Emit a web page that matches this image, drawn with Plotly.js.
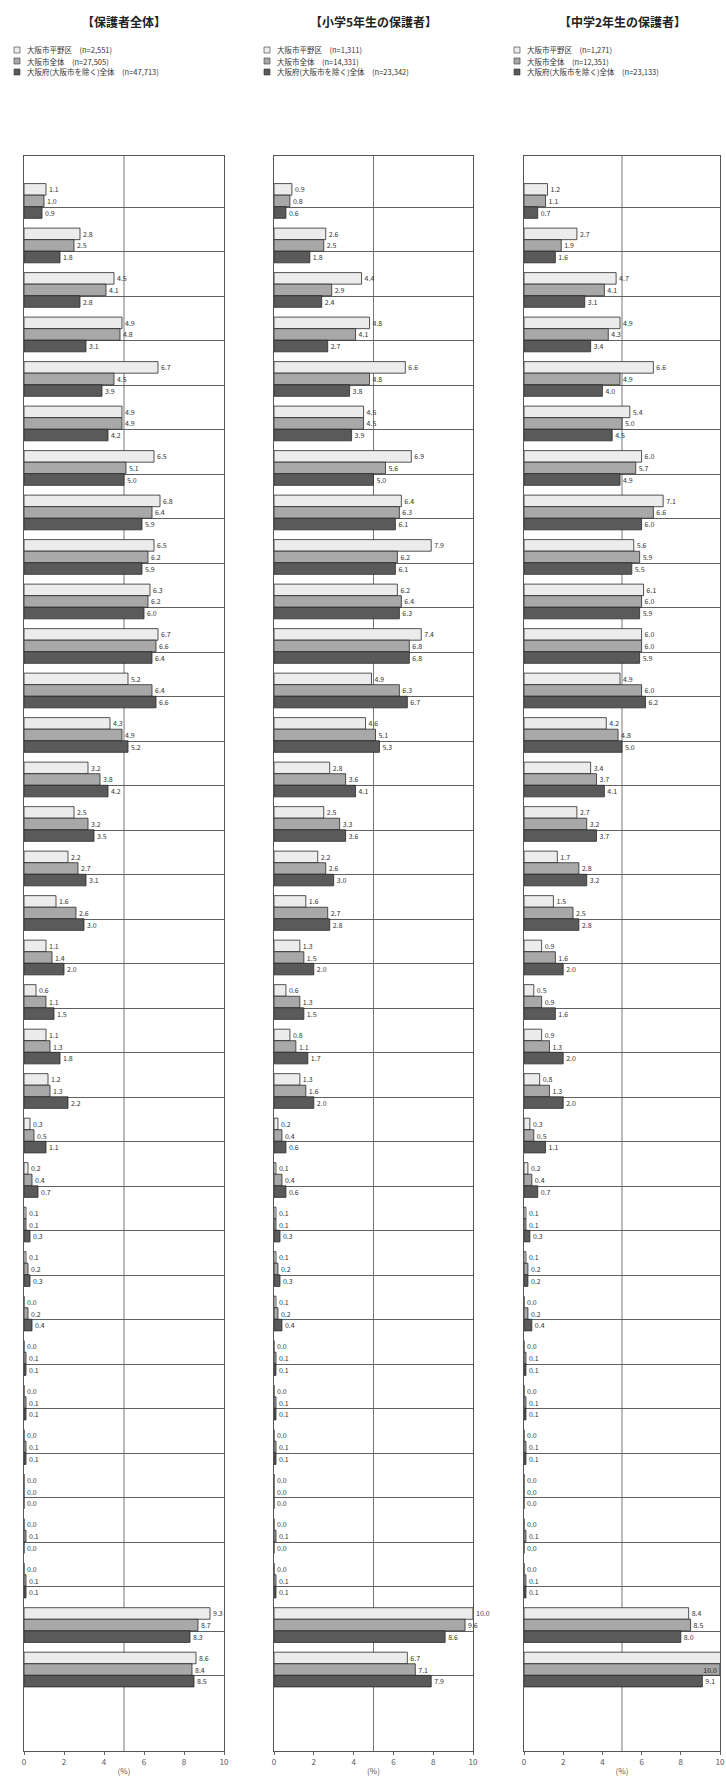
<!DOCTYPE html>
<html>
<head>
<meta charset="utf-8">
<script src="https://cdn.plot.ly/plotly-3.0.1.min.js"></script>
<style>
html,body{margin:0;padding:0;background:#fff;}
#chart{width:726px;height:1791px;}
</style>
</head>
<body>
<div id="chart"></div>
<script>
// ---- data ----
const panelTitles = ['【保護者全体】', '【小学5年生の保護者】', '【中学2年生の保護者】'];
const seriesLabels = ['大阪市平野区', '大阪市全体', '大阪府(大阪市を除く)全体'];
const nAll    = ['(n=2,551)', '(n=27,505)', '(n=47,713)'];
const nGrade5 = ['(n=1,311)', '(n=14,331)', '(n=23,342)'];
const nGrade8 = ['(n=1,271)', '(n=12,351)', '(n=23,133)'];

// row positions (categories, no labels in the original)
const rowIndex = [1,2,3,4,5,6,7,8,9,10,11,12,13,14,15,16,17,18,19,20,21,22,23,24,25,26,27,28,29,30,31,32,33,34];

// 保護者全体
const allS1 = [1.1,2.8,4.5,4.9,6.7,4.9,6.5,6.8,6.5,6.3,6.7,5.2,4.3,3.2,2.5,2.2,1.6,1.1,0.6,1.1,1.2,0.3,0.2,0.1,0.1,0.0,0.0,0.0,0.0,0.0,0.0,0.0,9.3,8.6];
const allS2 = [1.0,2.5,4.1,4.8,4.5,4.9,5.1,6.4,6.2,6.2,6.6,6.4,4.9,3.8,3.2,2.7,2.6,1.4,1.1,1.3,1.3,0.5,0.4,0.1,0.2,0.2,0.1,0.1,0.1,0.0,0.1,0.1,8.7,8.4];
const allS3 = [0.9,1.8,2.8,3.1,3.9,4.2,5.0,5.9,5.9,6.0,6.4,6.6,5.2,4.2,3.5,3.1,3.0,2.0,1.5,1.8,2.2,1.1,0.7,0.3,0.3,0.4,0.1,0.1,0.1,0.0,0.0,0.1,8.3,8.5];
// 小学5年生の保護者
const g5S1 = [0.9,2.6,4.4,4.8,6.6,4.5,6.9,6.4,7.9,6.2,7.4,4.9,4.6,2.8,2.5,2.2,1.6,1.3,0.6,0.8,1.3,0.2,0.1,0.1,0.1,0.1,0.0,0.0,0.0,0.0,0.0,0.0,10.0,6.7];
const g5S2 = [0.8,2.5,2.9,4.1,4.8,4.5,5.6,6.3,6.2,6.4,6.8,6.3,5.1,3.6,3.3,2.6,2.7,1.5,1.3,1.1,1.6,0.4,0.4,0.1,0.2,0.2,0.1,0.1,0.1,0.0,0.1,0.1,9.6,7.1];
const g5S3 = [0.6,1.8,2.4,2.7,3.8,3.9,5.0,6.1,6.1,6.3,6.8,6.7,5.3,4.1,3.6,3.0,2.8,2.0,1.5,1.7,2.0,0.6,0.6,0.3,0.3,0.4,0.1,0.1,0.1,0.0,0.0,0.1,8.6,7.9];
// 中学2年生の保護者
const g8S1 = [1.2,2.7,4.7,4.9,6.6,5.4,6.0,7.1,5.6,6.1,6.0,4.9,4.2,3.4,2.7,1.7,1.5,0.9,0.5,0.9,0.8,0.3,0.2,0.1,0.1,0.0,0.0,0.0,0.0,0.0,0.0,0.0,8.4,10.2];
const g8S2 = [1.1,1.9,4.1,4.3,4.9,5.0,5.7,6.6,5.9,6.0,6.0,6.0,4.8,3.7,3.2,2.8,2.5,1.6,0.9,1.3,1.3,0.5,0.4,0.1,0.2,0.2,0.1,0.1,0.1,0.0,0.1,0.1,8.5,10.0];
const g8S3 = [0.7,1.6,3.1,3.4,4.0,4.5,4.9,6.0,5.5,5.9,5.9,6.2,5.0,4.1,3.7,3.2,2.8,2.0,1.6,2.0,2.0,1.1,0.7,0.3,0.2,0.4,0.1,0.1,0.1,0.0,0.0,0.1,8.0,9.1];

const xTicks = [0, 2, 4, 6, 8, 10];
const xTickText = ['0', '2', '4', '6', '8', '10'];

// ---- styling / layout ----
const W = 726, H = 1791;
const FONT = '"Noto Sans CJK JP", "Noto Sans", sans-serif';
const fills = ['#ececec', '#a8a8a8', '#5a5a5a'];
const panelPx = [[24, 224], [274, 473], [524, 720]];
const plotTop = 156, plotBottom = 1751;

const panels = [
  {title: panelTitles[0], n: nAll,    data: [allS1, allS2, allS3]},
  {title: panelTitles[1], n: nGrade5, data: [g5S1, g5S2, g5S3]},
  {title: panelTitles[2], n: nGrade8, data: [g8S1, g8S2, g8S3]}
];

const traces = [];
const layout = {
  width: W, height: H,
  margin: {l: 0, r: 0, t: 0, b: 0},
  paper_bgcolor: '#fff', plot_bgcolor: '#fff',
  showlegend: false,
  barmode: 'group', bargap: 0.22, bargroupgap: 0,
  font: {family: FONT, size: 8, color: '#333'},
  annotations: [], shapes: []
};

const yDomain = [1 - plotBottom / H, 1 - plotTop / H];

panels.forEach((p, k) => {
  const xa = k === 0 ? 'x' : 'x' + (k + 1);
  const ya = k === 0 ? 'y' : 'y' + (k + 1);
  const xKey = k === 0 ? 'xaxis' : 'xaxis' + (k + 1);
  const yKey = k === 0 ? 'yaxis' : 'yaxis' + (k + 1);
  // labels of bars that reach the panel's right edge on the last panel go inside
  const edgeInside = (k === 2);
  p.data.forEach((vals, s) => {
    traces.push({
      type: 'bar', orientation: 'h',
      x: vals, y: rowIndex,
      xaxis: xa, yaxis: ya,
      name: seriesLabels[s] + ' ' + p.n[s],
      marker: {color: fills[s], line: {color: '#2a2a2a', width: 0.8}},
      text: vals.map(v => v.toFixed(1)),
      textposition: vals.map(v => (edgeInside && v >= 9.5) ? 'inside' : 'outside'),
      insidetextanchor: 'end',
      textfont: {size: 7, color: '#333', family: FONT},
      insidetextfont: {size: 7, color: s === 2 ? '#fff' : '#222', family: FONT},
      outsidetextfont: {size: 7, color: '#333', family: FONT},
      constraintext: 'none',
      cliponaxis: false,
      hoverinfo: 'x'
    });
  });
  const d = [panelPx[k][0] / W, panelPx[k][1] / W];
  layout[xKey] = {
    domain: d, anchor: ya, range: [0, 10], fixedrange: true,
    tickvals: xTicks, ticktext: xTickText,
    ticks: 'outside', ticklen: 3, tickcolor: '#666',
    tickfont: {size: 8, color: '#555', family: FONT},
    showgrid: false, zeroline: false,
    showline: true, mirror: true, linecolor: '#555', linewidth: 1,
    title: {text: '(%)', font: {size: 8, color: '#555', family: FONT}, standoff: 2}
  };
  layout[yKey] = {
    domain: yDomain, anchor: xa,
    range: [35.83, -0.01], fixedrange: true,
    tickvals: rowIndex.map(r => r + 0.14),
    showticklabels: false, ticks: '',
    showgrid: true, gridcolor: '#606060', gridwidth: 1,
    zeroline: false,
    showline: true, mirror: true, linecolor: '#555', linewidth: 1
  };
  // vertical gridline at 5
  layout.shapes.push({
    type: 'line', xref: xa, yref: ya + ' domain',
    x0: 5, x1: 5, y0: 0, y1: 1, layer: 'below',
    line: {color: '#777', width: 1}
  });
  // panel title
  const cx = (panelPx[k][0] + panelPx[k][1]) / 2;
  layout.annotations.push({
    xref: 'paper', yref: 'paper', x: cx / W, y: 1 - 22 / H,
    text: '<b>' + p.title + '</b>', showarrow: false,
    xanchor: 'center', yanchor: 'middle',
    font: {size: 12, color: '#222', family: FONT}
  });
  // legend
  const lx = panelPx[k][0] - 10;
  [50, 61, 72].forEach((ly, s) => {
    layout.shapes.push({
      type: 'rect', xref: 'paper', yref: 'paper',
      x0: lx / W, x1: (lx + 6) / W,
      y0: 1 - (ly + 3) / H, y1: 1 - (ly - 3) / H,
      fillcolor: fills[s], line: {color: '#333', width: 0.6}
    });
    layout.annotations.push({
      xref: 'paper', yref: 'paper', x: (lx + 11) / W, y: 1 - ly / H,
      text: seriesLabels[s] + '　' + p.n[s], showarrow: false,
      xanchor: 'left', yanchor: 'middle',
      font: {size: 7.5, color: '#333', family: FONT}
    });
  });
});

Plotly.newPlot('chart', traces, layout, {staticPlot: true, displayModeBar: false});
</script>
</body>
</html>
